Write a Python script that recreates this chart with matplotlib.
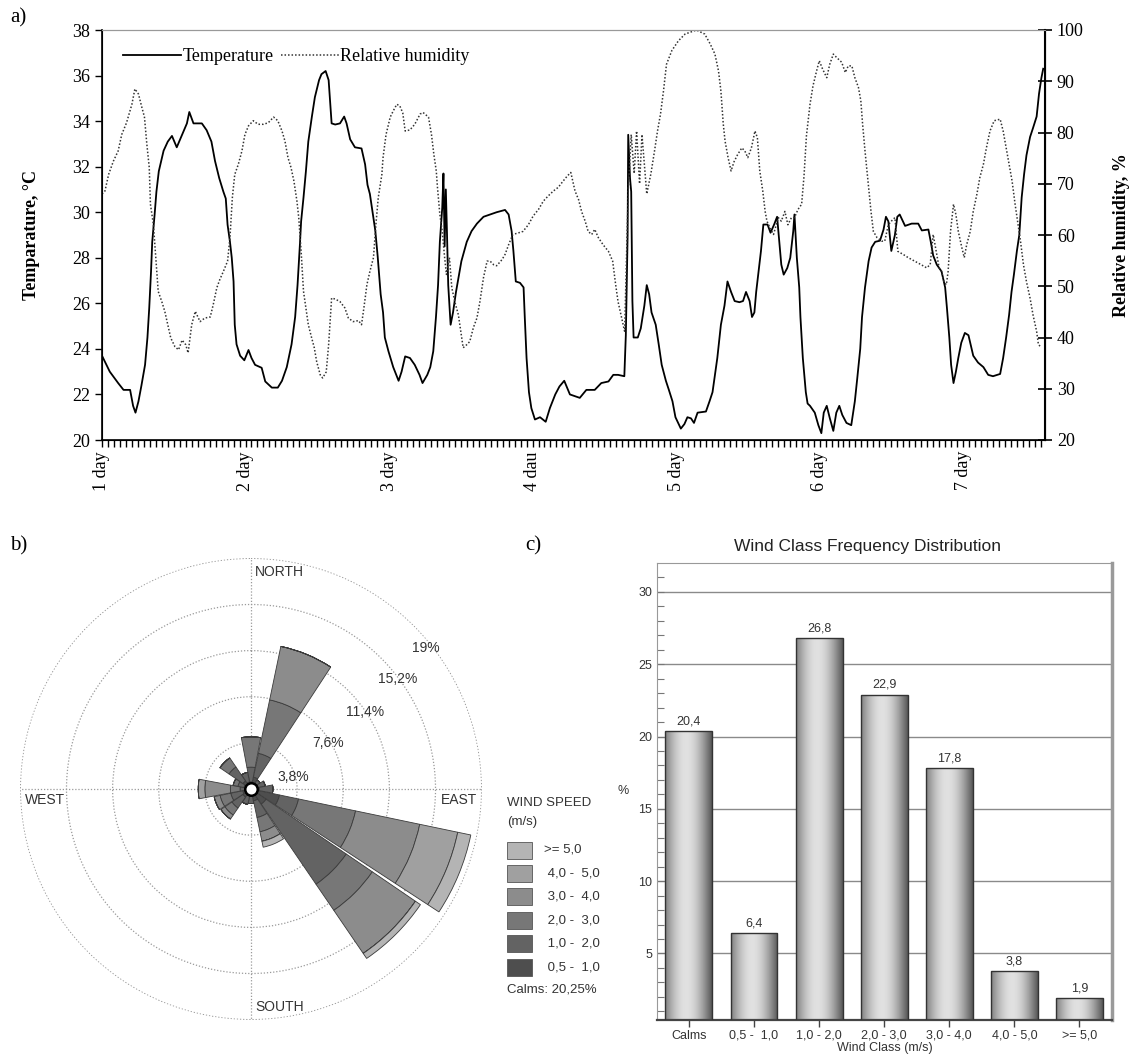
import numpy as np
import matplotlib
matplotlib.use("Agg")
import matplotlib.pyplot as plt
from matplotlib.patches import Rectangle

# ---------------- data: a) 7 days of temperature / humidity (hours from day 1)
temp_h = [0.0, 1.3, 2.7, 3.6, 4.7, 5.2, 5.6, 6.1, 6.6, 7.2, 7.6, 7.9, 8.2, 8.4, 8.8, 9.1, 9.5, 10.3, 11.0, 11.7,
          12.5, 13.4, 14.2, 14.6, 15.3, 16.7, 17.5, 18.3, 18.9, 19.6, 20.3, 20.7, 21.0, 21.4, 21.7, 22.0, 22.2, 22.5,
          23.1, 23.8, 24.5, 25.0, 25.6, 26.7, 27.3, 28.4, 29.4, 30.1, 30.9, 31.7, 32.3, 32.7, 33.1, 33.3, 33.7, 34.1,
          34.5, 35.1, 35.6, 36.3, 36.7, 37.4, 37.9, 38.1, 38.4, 39.0, 39.8, 40.5, 40.9, 41.5, 42.3, 43.4, 44.0, 44.4,
          44.8, 45.3, 45.7, 46.1, 46.6, 47.0, 47.3, 47.9, 48.7, 49.6, 50.1, 50.7, 51.5, 52.3, 53.1, 53.6, 54.4, 54.9,
          55.4, 55.85, 56.2, 56.5, 56.9, 57.1, 57.3, 57.5, 57.7, 57.9, 58.3, 58.7, 59.2, 59.6, 60.1, 61.0, 61.8, 62.7,
          63.8, 64.9, 66.0, 67.4, 68.0, 68.5, 68.8, 69.2, 69.9, 70.5, 70.7, 71.0, 71.4, 71.8, 72.4, 73.25, 74.2, 74.9,
          75.8, 76.5, 77.3, 78.25, 79.9, 81.0, 82.4, 83.5, 84.7, 85.5, 86.3, 87.35, 87.6, 87.9, 88.0, 88.3, 88.5, 88.7,
          88.9, 89.6, 90.1, 90.7, 91.1, 91.5, 91.9, 92.6, 93.1, 93.6, 94.3, 94.8, 95.4, 95.9, 96.8, 97.4, 97.9, 98.5,
          99.0, 99.6, 101.0, 101.6, 102.1, 102.5, 102.9, 103.5, 104.1, 104.6, 105.2, 105.8, 106.6, 107.2, 107.7, 108.3,
          108.7, 109.1, 109.4, 109.8, 110.2, 110.6, 111.3, 111.8, 112.4, 112.9, 113.2, 113.6, 114.0, 114.6, 115.1,
          115.6, 115.8, 116.2, 116.6, 116.8, 117.2, 117.7, 118.0, 118.4, 119.2, 119.8, 120.3, 120.7, 121.2, 121.7,
          122.3, 122.8, 123.3, 123.8, 124.5, 125.3, 125.9, 126.3, 126.8, 127.1, 127.6, 128.2, 128.7, 129.3, 130.1,
          130.7, 131.1, 131.5, 132.0, 132.6, 133.0, 133.4, 134.3, 135.4, 136.5, 137.1, 138.2, 138.6, 139.0, 139.6,
          140.4, 141.0, 141.3, 141.7, 142.0, 142.4, 142.8, 143.2, 143.7, 144.3, 144.9, 145.7, 146.5, 147.4, 148.2,
          149.0, 150.2, 150.7, 151.2, 151.7, 152.1, 152.5, 153.0, 153.4, 153.8, 154.2, 154.6, 155.2, 155.7, 156.3,
          156.7, 157.1, 157.4]
temp_c = [23.7, 23.0, 22.5, 22.2, 22.2, 21.5, 21.2, 21.7, 22.4, 23.3, 24.5, 25.8, 27.4, 28.7, 29.9, 30.9, 31.8, 32.7,
          33.1, 33.35, 32.85, 33.4, 33.9, 34.4, 33.9, 33.9, 33.6, 33.1, 32.25, 31.5, 30.9, 30.6, 29.45, 28.7, 28.0,
          26.96, 25.06, 24.2, 23.7, 23.5, 23.95, 23.6, 23.3, 23.17, 22.57, 22.3, 22.3, 22.6, 23.2, 24.2, 25.4, 26.8,
          28.6, 29.6, 30.65, 31.8, 33.1, 34.2, 35.05, 35.8, 36.06, 36.2, 35.8, 35.05, 33.9, 33.85, 33.9, 34.2, 33.9,
          33.2, 32.85, 32.8, 32.1, 31.2, 30.8, 29.9, 29.2, 28.07, 26.4, 25.6, 24.5, 23.9, 23.2, 22.6, 23.0, 23.67,
          23.6, 23.3, 22.86, 22.5, 22.86, 23.2, 23.9, 25.4, 26.8, 28.7, 30.2, 31.7, 28.5, 31.0, 29.0, 26.8, 25.06,
          25.6, 26.5, 27.1, 27.85, 28.7, 29.17, 29.5, 29.8, 29.9, 30.0, 30.1, 29.9, 29.17, 28.3, 26.96, 26.9, 26.7,
          25.4, 23.6, 22.1, 21.4, 20.9, 21.0, 20.8, 21.4, 22.0, 22.35, 22.6, 22.0, 21.85, 22.2, 22.2, 22.5, 22.57,
          22.86, 22.86, 22.8, 24.6, 29.0, 33.4, 31.5, 30.9, 26.1, 24.5, 24.5, 24.9, 25.9, 26.8, 26.4, 25.6, 25.06,
          24.2, 23.3, 22.6, 22.2, 21.7, 21.0, 20.5, 20.7, 21.0, 20.95, 20.75, 21.2, 21.25, 21.7, 22.1, 22.86, 23.6,
          25.06, 25.9, 26.96, 26.5, 26.1, 26.05, 26.1, 26.5, 26.1, 25.4, 25.6, 26.5, 27.4, 28.3, 29.46, 29.46, 29.1,
          29.46, 29.8, 28.9, 27.7, 27.26, 27.55, 28.0, 29.17, 29.9, 28.0, 26.7, 25.4, 23.6, 22.1, 21.6, 21.5, 21.2,
          20.65, 20.3, 21.2, 21.5, 20.97, 20.4, 21.2, 21.5, 21.1, 20.75, 20.65, 21.7, 22.7, 24.0, 25.4, 26.7, 27.85,
          28.45, 28.7, 28.75, 29.24, 29.8, 29.6, 28.3, 29.0, 29.8, 29.9, 29.4, 29.5, 29.5, 29.2, 29.24, 28.7, 28.1,
          27.7, 27.4, 26.7, 25.8, 24.5, 23.3, 22.5, 23.0, 23.6, 24.27, 24.7, 24.6, 23.7, 23.4, 23.2, 22.86, 22.8,
          22.9, 23.6, 24.5, 25.5, 26.5, 27.26, 28.3, 29.0, 30.65, 31.66, 32.5, 33.3, 33.7, 34.2, 35.2, 35.9, 36.3]

rh_h = [0.0, 0.5, 1.1, 1.9, 2.7, 3.3, 4.1, 5.0, 5.5, 6.1, 6.6, 7.1, 7.5, 7.9, 8.1, 8.6, 9.0, 9.4, 10.0, 10.5, 11.0,
        11.5, 12.2, 12.8, 13.4, 14.0, 14.4, 15.0, 15.6, 16.4, 17.2, 18.1, 18.6, 19.2, 19.7, 20.3, 21.0, 21.4, 21.8,
        22.2, 22.8, 23.4, 23.9, 24.5, 25.3, 26.1, 27.0, 27.8, 28.7, 29.4, 30.1, 30.6, 31.1, 31.6, 32.1, 32.6, 32.9,
        33.3, 33.7, 34.1, 34.5, 35.0, 35.5, 35.9, 36.5, 36.9, 37.5, 37.9, 38.4, 39.0, 39.8, 40.6, 41.2, 42.0, 42.9,
        43.4, 43.8, 44.3, 44.8, 45.4, 45.8, 46.2, 46.8, 47.0, 47.5, 48.2, 48.7, 49.3, 49.8, 50.3, 50.7, 51.5, 52.3,
        53.2, 53.7, 54.6, 55.1, 55.5, 55.9, 56.1, 56.5, 56.9, 57.3, 57.6, 58.1, 58.5, 59.0, 59.6, 60.0, 60.4, 61.0,
        61.5, 62.1, 62.7, 63.2, 63.8, 64.4, 64.9, 65.5, 66.0, 66.9, 67.4, 68.0, 68.7, 69.6, 70.4, 71.3, 72.1, 73.0,
        73.8, 74.6, 75.5, 76.3, 77.1, 77.8, 78.4, 79.1, 79.7, 80.2, 80.8, 81.3, 81.9, 82.4, 83.0, 83.8, 84.7, 85.4,
        85.9, 86.3, 86.9, 87.4, 87.7, 88.0, 88.5, 89.0, 89.4, 89.9, 90.3, 91.1, 91.8, 92.4, 92.9, 93.4, 93.9, 94.4,
        95.3, 96.4, 97.5, 99.4, 100.8, 101.7, 102.5, 103.1, 103.5, 103.9, 104.2, 104.7, 105.2, 105.7, 106.3, 107.0,
        107.5, 108.0, 108.6, 109.2, 109.6, 110.0, 110.5, 110.9, 111.2, 111.7, 112.3, 113.1, 113.6, 114.2, 114.7,
        115.3, 115.8, 116.4, 117.0, 117.4, 117.8, 118.4, 118.9, 119.5, 119.95, 120.5, 121.2, 121.7, 122.3, 122.8,
        123.7, 124.3, 124.8, 125.4, 125.9, 126.5, 126.9, 127.2, 127.6, 128.2, 128.6, 129.0, 129.6, 130.4, 130.9,
        131.5, 132.0, 132.6, 133.1, 134.0, 134.8, 135.9, 137.0, 137.9, 138.5, 139.0, 139.6, 140.0, 140.4, 140.8,
        141.2, 141.5, 141.9, 142.4, 142.8, 143.2, 143.8, 144.2, 144.6, 145.2, 145.7, 146.3, 146.8, 147.4, 147.9,
        148.5, 149.2, 150.2, 150.7, 151.3, 151.7, 152.2, 152.7, 153.2, 153.6, 154.1, 154.6, 155.2, 155.7, 156.3,
        156.6, 157.0]
rh_v = [68.0, 68.6, 71.8, 74.4, 76.4, 79.6, 81.9, 85.5, 88.5, 87.5, 85.2, 83.0, 77.7, 73.2, 66.0, 62.0, 55.6, 49.0,
        47.0, 45.1, 42.5, 39.9, 38.2, 37.6, 39.5, 38.6, 37.0, 42.5, 45.1, 43.1, 43.8, 44.0, 46.4, 49.7, 51.3, 52.9,
        54.9, 59.5, 67.3, 71.8, 73.8, 76.4, 79.6, 81.3, 82.3, 81.6, 81.6, 81.9, 83.0, 82.3, 80.3, 78.3, 75.1, 73.2,
        70.5, 66.6, 63.4, 56.8, 49.0, 45.8, 42.5, 40.2, 38.0, 35.3, 32.7, 32.1, 33.3, 38.6, 47.7, 47.5, 47.0, 45.8,
        43.8, 43.1, 43.3, 42.5, 45.8, 50.3, 52.9, 55.6, 62.0, 67.3, 71.8, 75.1, 79.6, 83.0, 84.2, 85.5, 85.2, 83.8,
        80.3, 80.5, 81.6, 83.6, 83.9, 83.0, 79.6, 75.7, 72.5, 69.3, 64.0, 60.7, 55.6, 52.3, 55.6, 49.7, 47.0, 44.4,
        41.2, 38.0, 38.6, 39.2, 41.9, 43.8, 47.0, 51.7, 54.9, 54.9, 54.2, 54.0, 55.2, 56.2, 58.1, 60.1, 60.4, 60.7,
        62.0, 63.7, 65.0, 66.6, 67.6, 68.6, 69.3, 70.5, 71.5, 72.2, 68.6, 66.9, 64.6, 62.7, 60.7, 60.1, 61.1, 59.5,
        58.1, 56.8, 54.9, 50.3, 47.0, 43.8, 41.2, 55.0, 68.6, 79.6, 72.0, 80.3, 70.0, 79.6, 68.0, 72.0, 76.4, 80.3,
        83.6, 88.1, 93.3, 96.0, 97.9, 99.2, 100.0, 99.2, 97.3, 95.3, 92.0, 88.1, 81.6, 78.3, 75.1, 72.5, 74.3, 75.7,
        77.0, 76.4, 75.1, 77.0, 80.3, 79.0, 72.5, 68.6, 64.6, 62.7, 61.4, 60.1, 63.4, 62.7, 64.6, 62.0, 63.4, 63.4,
        65.0, 66.0, 71.5, 79.3, 85.5, 89.1, 92.0, 94.0, 92.4, 90.7, 93.3, 95.3, 94.7, 93.7, 91.7, 93.0, 93.0, 90.7,
        88.8, 86.2, 81.6, 76.4, 69.3, 64.6, 60.7, 59.5, 58.8, 58.8, 62.0, 62.7, 63.4, 56.8, 56.2, 55.6, 54.9, 54.2,
        53.6, 54.2, 60.1, 56.2, 53.6, 52.9, 50.9, 50.3, 52.9, 60.7, 66.0, 64.0, 60.7, 57.5, 55.6, 58.1, 60.7, 64.6,
        67.9, 71.2, 73.8, 77.0, 80.3, 82.3, 82.6, 80.3, 76.4, 73.8, 70.5, 66.0, 62.0, 58.8, 54.2, 50.9, 47.7, 44.4,
        41.2, 38.6, 38.2]

day_labels = ["1 day", "2 day", "3 day", "4 dau", "5 day", "6 day", "7 day"]

# ---------------- data: b) wind rose, % per direction and speed class
directions = [0, 22.5, 45, 67.5, 90, 112.5, 135, 157.5, 180, 202.5, 225, 247.5, 270, 292.5, 315, 337.5]
ws_05_10 = [0.6, 1.0, 0.5, 0.6, 0.7, 2.4, 1.5, 1.0, 0.6, 0.6, 0.8, 0.7, 0.5, 0.6, 0.8, 0.6]
ws_10_20 = [1.2, 2.0, 0.4, 0.6, 1.1, 1.6, 8.0, 1.4, 0.6, 0.7, 1.1, 1.0, 0.4, 0.5, 1.4, 0.8]
ws_20_30 = [2.5, 4.5, 0.0, 0.0, 0.0, 4.8, 2.6, 1.2, 0.0, 0.0, 0.7, 0.9, 0.8, 0.4, 0.9, 0.0]
ws_30_40 = [0.0, 4.5, 0.0, 0.0, 0.0, 5.4, 4.3, 0.8, 0.0, 0.0, 0.4, 0.5, 2.1, 0.0, 0.0, 0.0]
ws_40_50 = [0.0, 0.0, 0.0, 0.0, 0.0, 3.2, 0.0, 0.0, 0.0, 0.0, 0.0, 0.0, 0.55, 0.0, 0.0, 0.0]
ws_50_up = [0.0, 0.0, 0.0, 0.0, 0.0, 1.1, 0.5, 0.5, 0.0, 0.0, 0.0, 0.0, 0.0, 0.0, 0.0, 0.0]
speed_labels = [">= 5,0", " 4,0 -  5,0", " 3,0 -  4,0", " 2,0 -  3,0", " 1,0 -  2,0", " 0,5 -  1,0"]
calms_text = "Calms: 20,25%"
ring_values = [3.8, 7.6, 11.4, 15.2, 19]
ring_labels = ["3,8%", "7,6%", "11,4%", "15,2%", "19%"]

# ---------------- data: c) wind class frequency
classes = ["Calms", "0,5 -  1,0", "1,0 - 2,0", "2,0 - 3,0", "3,0 - 4,0", "4,0 - 5,0", ">= 5,0"]
freq = [20.4, 6.4, 26.8, 22.9, 17.8, 3.8, 1.9]

W, H = 1129, 1055
fig = plt.figure(figsize=(W / 100, H / 100), dpi=100)
SERIF = "Liberation Serif"
SANS = "Liberation Sans"


def box(x0, y0, x1, y1):
    # pixel box (top-left origin) -> figure fraction rect
    return [x0 / W, 1 - y1 / H, (x1 - x0) / W, (y1 - y0) / H]


# ============================== a)
ax1 = fig.add_axes(box(102, 30, 1045, 440))
ax2 = ax1.twinx()
l1, = ax1.plot(temp_h, temp_c, color="black", lw=1.3, label="Temperature")
l2, = ax2.plot(rh_h, rh_v, color="#333333", lw=1.1, ls=(0, (1, 1.3)), label="Relative humidity")
ax1.set_xlim(0, 157.7)
ax1.set_ylim(20, 38)
ax2.set_ylim(20, 100)
ax1.set_yticks(np.arange(20, 39, 2))
ax2.set_yticks(np.arange(20, 101, 10))
ax1.set_xticks(np.arange(0, 145, 24))
ax1.set_xticklabels(day_labels, rotation=90)
ax1.set_xticks(np.arange(0, 158, 1), minor=True)
ax1.tick_params(axis="x", which="both", direction="out", length=5, width=1, labelsize=13, pad=3)
ax1.tick_params(axis="y", direction="out", length=5, width=1, labelsize=13)
ax2.tick_params(axis="y", direction="inout", length=10, width=1.2, labelsize=13)
for lbl in ax1.get_xticklabels() + ax1.get_yticklabels() + ax2.get_yticklabels():
    lbl.set_family(SERIF)
for a in (ax1, ax2):
    a.spines["top"].set_color("#999999")
ax1.spines["left"].set_linewidth(1.2)
ax1.spines["bottom"].set_linewidth(1.2)
ax2.spines["right"].set_linewidth(1.5)
ax1.set_ylabel("Temparature, °C", fontsize=13, fontweight="bold", family=SERIF)
ax1.yaxis.set_label_coords((40 - 102) / 943, 0.5)
ax2.set_ylabel("Relative humidity, %", fontsize=13, fontweight="bold", family=SERIF)
ax2.yaxis.set_label_coords((1113 - 102) / 943, 0.5)
ax2.legend([l1, l2], ["Temperature", "Relative humidity"], loc="upper left", ncol=2, frameon=False,
           bbox_to_anchor=(0.005, 0.995), handlelength=3.2, handletextpad=0.1, columnspacing=0.4,
           prop={"family": SERIF, "size": 13})
fig.text(10 / W, 1 - 18 / H, "a)", family=SERIF, fontsize=15, va="center")

# ============================== b)
axr = fig.add_axes(box(20, 558, 482, 1020), projection="polar")
axr.set_theta_zero_location("N")
axr.set_theta_direction(-1)
axr.set_axisbelow(True)
theta = np.deg2rad(directions)
width = np.deg2rad(22.5) * 0.95
class_colors = ["#4e4e4e", "#636363", "#777777", "#8c8c8c", "#a0a0a0", "#b4b4b4"]
bottom = np.zeros(len(directions))
for vals, col in zip([ws_05_10, ws_10_20, ws_20_30, ws_30_40, ws_40_50, ws_50_up], class_colors):
    axr.bar(theta, vals, width=width, bottom=bottom, color=col, edgecolor="#3a3a3a", linewidth=0.6, zorder=3)
    bottom = bottom + np.array(vals)
axr.set_ylim(0, 19.03)
axr.set_rticks(ring_values)
axr.set_yticklabels([])
axr.set_thetagrids([0, 90, 180, 270], labels=["", "", "", ""])
axr.xaxis.grid(True, color="#9a9a9a", ls=(0, (1, 1.5)), lw=0.9)
axr.yaxis.grid(True, color="#9a9a9a", ls=(0, (1, 1.5)), lw=0.9)
axr.spines["polar"].set_visible(False)
axr.plot(0, 0, "o", ms=9, mfc="white", mec="black", mew=1.8, zorder=5, clip_on=False)
label_pos = [(74, 3.6), (59, 7.4), (56, 11.3), (53, 15.1), (51, 18.5)]
for (b, r), txt in zip(label_pos, ring_labels):
    axr.text(np.deg2rad(b), r, txt, ha="center", va="center", fontsize=10, color="#333333", family=SANS,
             zorder=6)
for txt, x, y, ha in [("NORTH", 0.509, 0.969, "left"), ("SOUTH", 0.509, 0.028, "left"),
                      ("WEST", 0.011, 0.476, "left"), ("EAST", 0.989, 0.476, "right")]:
    axr.text(x, y, txt, transform=axr.transAxes, ha=ha, va="center", fontsize=10, color="#333333", family=SANS)
fig.text(10 / W, 1 - 546 / H, "b)", family=SERIF, fontsize=15, va="center")

# wind speed legend
fig.text(507 / W, 1 - 803 / H, "WIND SPEED", family=SANS, fontsize=9.5, color="#333333", va="center")
fig.text(507 / W, 1 - 822 / H, "(m/s)", family=SANS, fontsize=9.5, color="#333333", va="center")
for i, (lab, col) in enumerate(zip(speed_labels, class_colors[::-1])):
    yc = 850 + i * 23.4
    fig.patches.append(Rectangle((507 / W, 1 - (yc + 8.5) / H), 25 / W, 17 / H, transform=fig.transFigure,
                                 facecolor=col, edgecolor="#555555", lw=0.6))
    fig.text(544 / W, 1 - yc / H, lab, family=SANS, fontsize=9.5, color="#333333", va="center")
fig.text(507 / W, 1 - 990 / H, calms_text, family=SANS, fontsize=9.5, color="#333333", va="center")

# ============================== c)
axb = fig.add_axes(box(657, 563, 1112, 1020))
x = np.arange(len(classes))
bw = 0.72
ylo, yhi = 0.4, 32
axb.set_axisbelow(True)
axb.yaxis.grid(True, color="#8a8a8a", lw=1.0)
bars = axb.bar(x, freq, width=bw, color="none", edgecolor="#333333", linewidth=1.0, zorder=3)
t = np.linspace(0, 1, 200)
shade = 0.30 + 0.58 * np.cos(np.pi * (t - 0.45) / 1.15)
shade = shade[np.newaxis, :]
for rect, xi, v in zip(bars, x, freq):
    im = axb.imshow(shade, extent=[xi - bw / 2, xi + bw / 2, ylo, v], aspect="auto", cmap="gray",
                    vmin=0, vmax=1, zorder=2, interpolation="bicubic")
    im.set_clip_path(rect)
    axb.text(xi, v + 0.25, f"{v:.1f}".replace(".", ","), ha="center", va="bottom", fontsize=9,
             color="#333333", family=SANS)
axb.set_xlim(-0.49, 6.5)
axb.set_ylim(ylo, yhi)
axb.set_xticks(x)
axb.set_xticklabels(classes)
axb.set_yticks(np.arange(5, 31, 5))
axb.set_yticks(np.arange(1, 32, 1), minor=True)
axb.tick_params(axis="x", direction="inout", length=10, width=1, color="#444444", labelsize=9, pad=2,
                labelcolor="#333333")
axb.tick_params(axis="y", which="both", direction="in", length=5, width=0.8, color="#777777", labelsize=9,
                labelcolor="#333333")
for lbl in axb.get_xticklabels() + axb.get_yticklabels():
    lbl.set_family(SANS)
axb.spines["left"].set_color("#999999")
axb.spines["top"].set_color("#999999")
axb.spines["right"].set_color("#9a9a9a")
axb.spines["right"].set_linewidth(2.5)
axb.spines["bottom"].set_color("#444444")
axb.spines["bottom"].set_linewidth(1.6)
axb.set_xlabel("Wind Class (m/s)", fontsize=9, family=SANS, color="#333333", labelpad=0)
axb.text(-0.075, 0.5, "%", transform=axb.transAxes, fontsize=9, family=SANS, color="#333333",
         ha="center", va="center")
fig.text(867 / W, 1 - 546 / H, "Wind Class Frequency Distribution", family=SANS, fontsize=12.5,
         color="#222222", ha="center", va="center")
fig.text(525 / W, 1 - 546 / H, "c)", family=SERIF, fontsize=15, va="center")

fig.savefig("out.png", dpi=100)
